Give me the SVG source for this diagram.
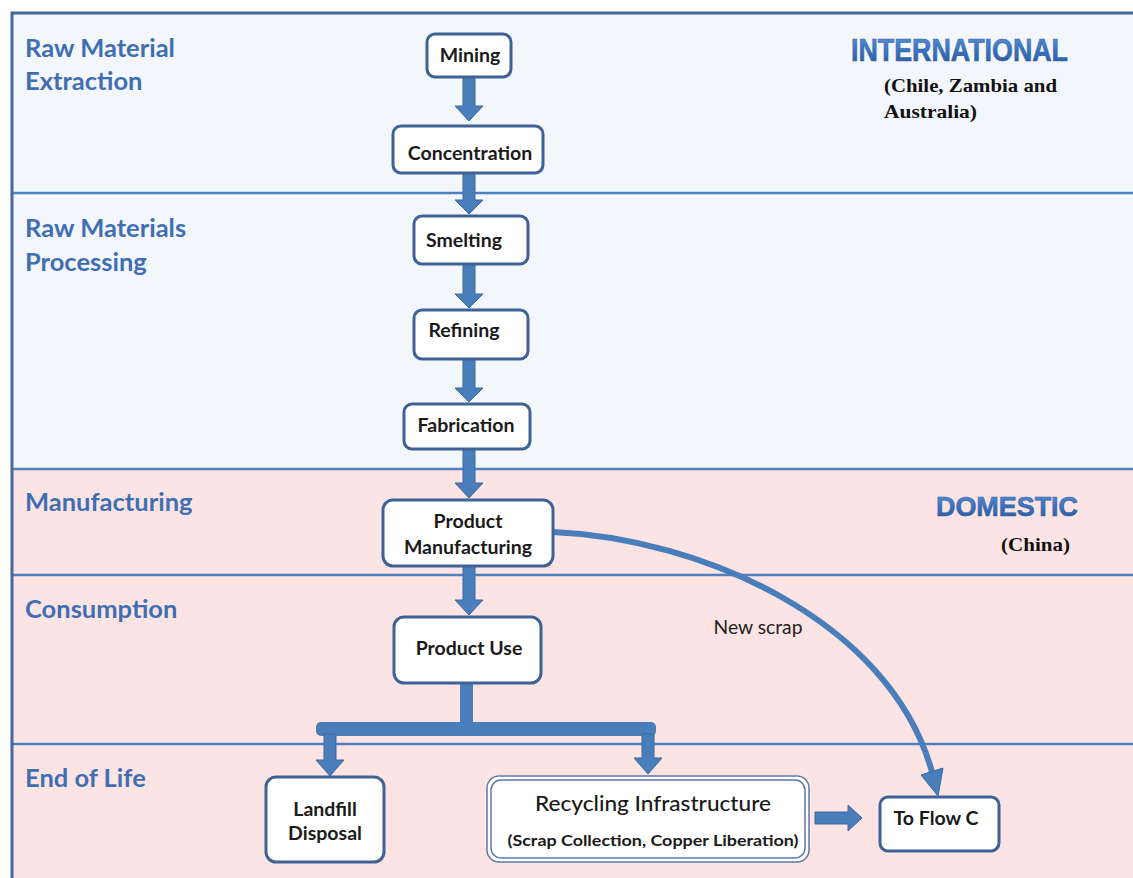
<svg xmlns="http://www.w3.org/2000/svg" width="1133" height="878" viewBox="0 0 1133 878">
<defs>
<linearGradient id="hg" x1="0" y1="0" x2="0" y2="1">
<stop offset="0" stop-color="#5f95d8"/>
<stop offset="0.5" stop-color="#3a72c0"/>
<stop offset="1" stop-color="#2a5597"/>
</linearGradient>
</defs>
<style>
.band-blue{fill:#f3f6fb}
.band-pink{fill:#fde4e4}
.div{stroke:#4f7fbf;stroke-width:2.5;fill:none}
.frame{stroke:#46689a;stroke-width:3;fill:none}
.sec{font-family:Lato,"Liberation Sans",sans-serif;font-weight:700;font-size:25.5px;fill:#3f6fb2}
.box{fill:#ffffff;stroke:#3f6296;stroke-width:3}
.lbl{font-family:Lato,"Liberation Sans",sans-serif;font-weight:700;font-size:19.5px;fill:#1a1a1a;text-anchor:middle}
.arr{fill:#4a7ebb;stroke:#3a68a3;stroke-width:1}
.big{font-family:"Liberation Sans",Arial,sans-serif;font-weight:700;fill:url(#hg);stroke:#2f5f9f;stroke-width:0.6}
.tm{font-family:"Liberation Serif","Times New Roman",serif;font-weight:700;font-size:19px;fill:#111}
</style>
<rect x="0" y="0" width="1133" height="878" fill="#ffffff"/>
<g id="bands">
<rect class="band-blue" x="12" y="13" width="1121" height="456"/>
<rect class="band-pink" x="12" y="469" width="1121" height="409"/>
<line class="div" x1="12" y1="193" x2="1133" y2="193"/>
<line class="div" x1="12" y1="469" x2="1133" y2="469"/>
<line class="div" x1="12" y1="575" x2="1133" y2="575"/>
<line class="div" x1="12" y1="744" x2="1133" y2="744"/>
<path class="frame" d="M12 878 V13 H1133"/>
</g>
<g id="section-labels">
<text class="sec" x="25" y="57">Raw Material</text>
<text class="sec" x="25" y="90">Extraction</text>
<text class="sec" x="25" y="237">Raw Materials</text>
<text class="sec" x="25" y="271">Processing</text>
<text class="sec" x="25" y="511">Manufacturing</text>
<text class="sec" x="25" y="618">Consumption</text>
<text class="sec" x="25" y="787">End of Life</text>
</g>
<g id="region-labels">
<text class="big" x="851" y="61" font-size="31" textLength="217" lengthAdjust="spacingAndGlyphs">INTERNATIONAL</text>
<text class="tm" x="884" y="92" textLength="173" lengthAdjust="spacingAndGlyphs">(Chile, Zambia and</text>
<text class="tm" x="884" y="118" textLength="93" lengthAdjust="spacingAndGlyphs">Australia)</text>
<text class="big" x="936" y="516" font-size="28" textLength="142" lengthAdjust="spacingAndGlyphs">DOMESTIC</text>
<text class="tm" x="1001" y="551" textLength="69" lengthAdjust="spacingAndGlyphs">(China)</text>
</g>
<g id="connectors">
<polygon class="arr" points="463,77 475,77 475,106 483,106 469,121 455,106 463,106"/>
<polygon class="arr" points="463,173 475,173 475,200 483,200 469,214 455,200 463,200"/>
<polygon class="arr" points="463,264 475,264 475,294 483,294 469,308 455,294 463,294"/>
<polygon class="arr" points="463,359 475,359 475,388 483,388 469,402 455,388 463,388"/>
<polygon class="arr" points="463,449 475,449 475,483 483,483 469,498 455,483 463,483"/>
<polygon class="arr" points="463,566 475,566 475,600 483,600 469,615 455,600 463,600"/>
<rect x="460" y="683" width="13" height="44" fill="#4a7ebb"/>
<rect x="316" y="722" width="340" height="14" rx="5" fill="#4a7ebb"/>
<polygon class="arr" points="324,734 336,734 336,760 344,760 330,776 316,760 324,760"/>
<polygon class="arr" points="642,734 654,734 654,758 662,758 648,774 634,758 642,758"/>
<polygon class="arr" points="815,812 848,812 848,805 862,818 848,831 848,824 815,824"/>
<path d="M553 532 C700 538 890 620 932 772" fill="none" stroke="#4a7ebb" stroke-width="6"/>
<polygon points="938,796 943,768 921,775" fill="#4a7ebb" stroke="#3a68a3" stroke-width="1"/>
<text x="758" y="634" text-anchor="middle" font-family="Lato,'Liberation Sans',sans-serif" font-size="19.5" fill="#222" textLength="89" lengthAdjust="spacingAndGlyphs">New scrap</text>
</g>
<g id="mining">
<rect class="box" x="427" y="34" width="84" height="43" rx="8"/>
<text class="lbl" x="470" y="62">Mining</text>
</g>
<g id="concentration">
<rect class="box" x="393" y="126" width="150" height="47" rx="8"/>
<text class="lbl" x="470" y="160">Concentration</text>
</g>
<g id="smelting">
<rect class="box" x="414" y="216" width="114" height="48" rx="8"/>
<text class="lbl" x="464" y="247">Smelting</text>
</g>
<g id="refining">
<rect class="box" x="414" y="310" width="114" height="49" rx="8"/>
<text class="lbl" x="464" y="337">Refining</text>
</g>
<g id="fabrication">
<rect class="box" x="404" y="404" width="126" height="45" rx="8"/>
<text class="lbl" x="466" y="432">Fabrication</text>
</g>
<g id="product-manufacturing">
<rect class="box" x="383" y="500" width="170" height="66" rx="10"/>
<text class="lbl" x="468" y="528">Product</text>
<text class="lbl" x="468" y="554">Manufacturing</text>
</g>
<g id="product-use">
<rect class="box" x="394" y="617" width="147" height="66" rx="10"/>
<text class="lbl" x="469" y="655">Product Use</text>
</g>
<g id="landfill">
<rect class="box" x="266" y="777" width="118" height="85" rx="10"/>
<text class="lbl" x="325" y="816">Landfill</text>
<text class="lbl" x="325" y="840">Disposal</text>
</g>
<g id="recycling">
<rect x="487" y="776" width="322" height="86" rx="12" fill="#ffffff" stroke="#5d7aa6" stroke-width="1.5"/>
<rect x="491" y="780" width="314" height="78" rx="10" fill="none" stroke="#5d7aa6" stroke-width="1.5"/>
<text class="lbl" x="653" y="811" style="font-size:22px;font-weight:500" textLength="236" lengthAdjust="spacingAndGlyphs">Recycling Infrastructure</text>
<text class="lbl" x="653" y="846" style="font-size:16px" textLength="291" lengthAdjust="spacingAndGlyphs">(Scrap Collection,  Copper Liberation)</text>
</g>
<g id="to-flow-c">
<rect class="box" x="880" y="797" width="119" height="54" rx="8"/>
<text class="lbl" x="936" y="825">To Flow C</text>
</g>
</svg>
